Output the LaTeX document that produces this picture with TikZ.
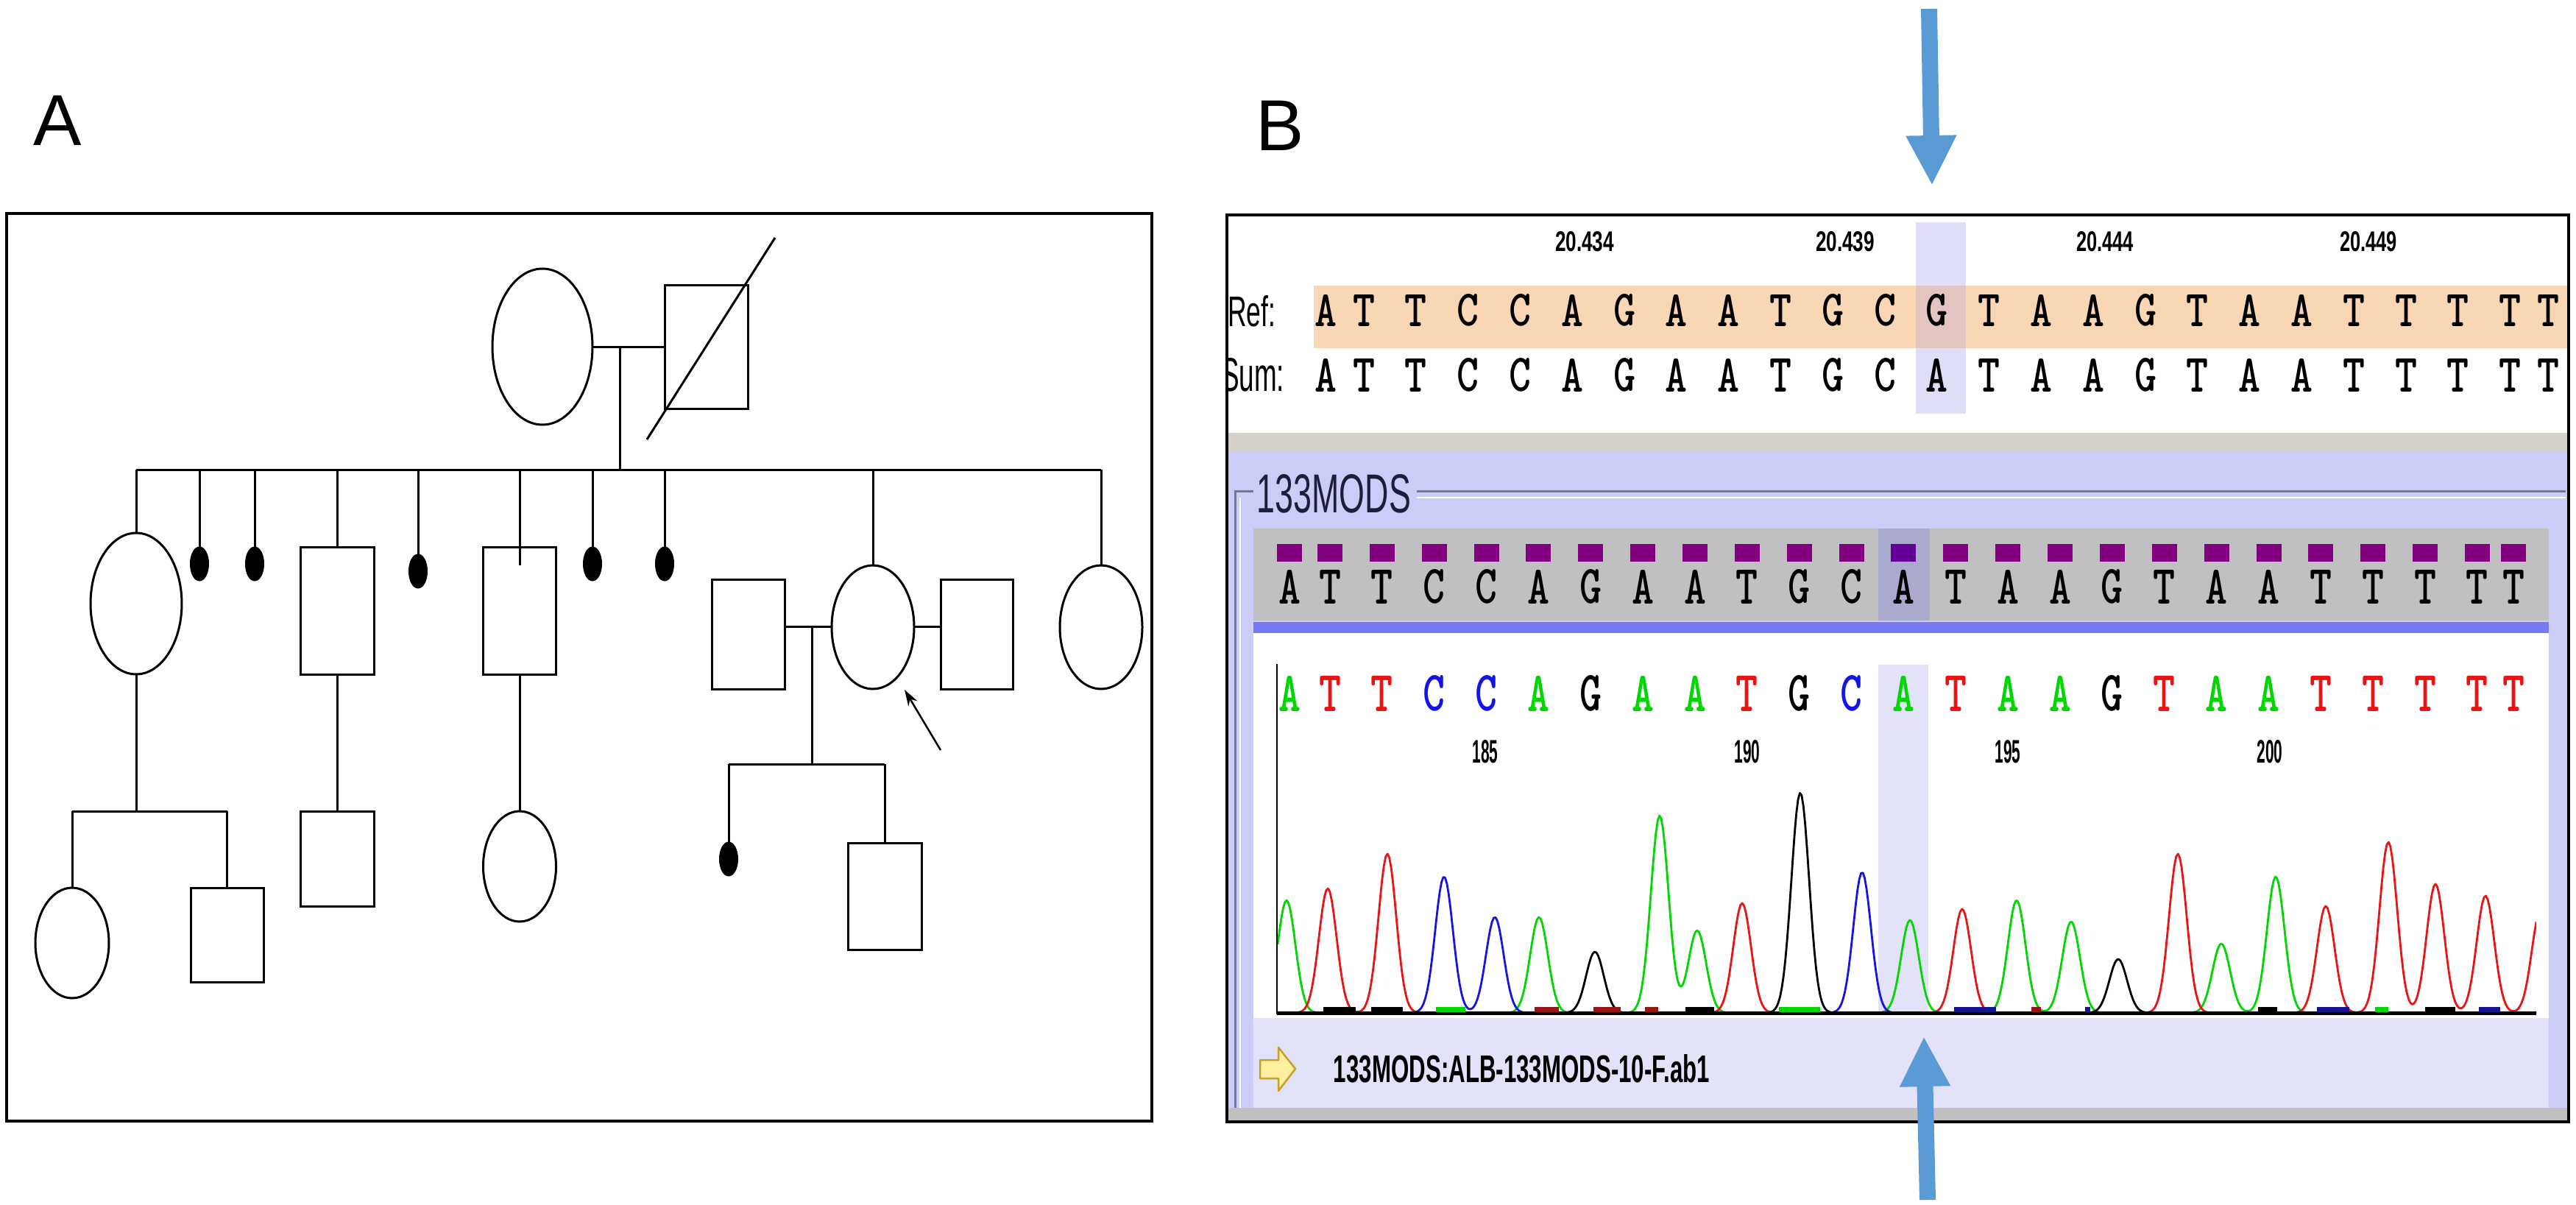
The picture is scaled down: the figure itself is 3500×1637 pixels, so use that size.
\documentclass[tikz,border=0pt]{standalone}
\usepackage{graphicx}
\usepackage{fontspec}
\setmainfont{Liberation Sans}
\usetikzlibrary{shapes.geometric,arrows.meta}
\definecolor{peach}{RGB}{249,214,180}
\definecolor{hilite}{RGB}{222,222,246}
\definecolor{hilpeach}{RGB}{226,196,192}
\definecolor{gband}{RGB}{212,208,200}
\definecolor{lav}{RGB}{204,204,248}
\definecolor{lavlight}{RGB}{226,226,248}
\definecolor{framegray}{RGB}{120,120,150}
\definecolor{barg}{RGB}{192,192,192}
\definecolor{barhil}{RGB}{170,170,206}
\definecolor{purp}{RGB}{128,0,128}
\definecolor{purphil}{RGB}{100,0,150}
\definecolor{blueline}{RGB}{120,120,240}
\definecolor{tg}{RGB}{0,215,0}
\definecolor{tr}{RGB}{235,20,20}
\definecolor{tb}{RGB}{20,20,230}
\definecolor{tk}{RGB}{0,0,0}
\definecolor{dred}{RGB}{150,20,20}
\definecolor{dblue}{RGB}{20,20,140}
\definecolor{arrblue}{RGB}{91,155,213}
\definecolor{iconfill}{RGB}{255,240,160}
\definecolor{icondraw}{RGB}{200,160,40}
\definecolor{grptext}{RGB}{30,30,60}
\newcommand{\fitto}[3]{\resizebox{#1pt}{#2pt}{#3}}
\newcommand{\seqlt}[1]{\ttfamily\bfseries #1}
\begin{document}
\begin{tikzpicture}[x=1pt,y=-1pt,
  pline/.style={line width=3pt,black},
  fem/.style={ellipse,draw,line width=3pt,inner sep=0pt,outer sep=0pt},
  mal/.style={rectangle,draw,line width=3pt,inner sep=0pt,outer sep=0pt},
  lost/.style={ellipse,fill=black,draw=black,line width=1pt,inner sep=0pt,outer sep=0pt,minimum width=25pt,minimum height=46pt},
  txt/.style={inner sep=0pt,outer sep=0pt,anchor=center},
  sqp/.style={rectangle,fill=purp,inner sep=0pt,outer sep=0pt,minimum width=34pt,minimum height=24pt},
  tracepen/.style={line width=2.8pt,line join=round},
  bluearrow/.style={arrblue,line width=22pt,-{Triangle[length=68pt,width=64pt]}},
  declare function={pk(\pkx,\pkc,\pkh)=\pkh*exp(-min(abs(\pkx-\pkc)/17,8)*min(abs(\pkx-\pkc)/17,8));}
]
\useasboundingbox (0,0) rectangle (3500,1637);
\fill[white] (0,0) rectangle (3500,1637);

% ---------------- labels
\node[txt,anchor=base west] (labA) at (45,198) {\fontsize{98}{98}\selectfont A};
\node[txt,anchor=base west] (labB) at (1706,205) {\fontsize{98}{98}\selectfont B};

% ---------------- Panel A : pedigree
\draw[line width=4pt] (8.5,290) rectangle (1565,1523);

\node[fem,minimum width=136pt,minimum height=212pt] (f1) at (737,471) {};
\node[mal,minimum width=113pt,minimum height=168pt] (m1) at (959.5,471) {};
\draw[pline] (f1.east) -- (m1.west);
\coordinate (dd1) at (879,597);
\coordinate (dd2) at (1053,323);
\draw[pline] (dd1) -- (dd2);
\coordinate (fm) at (842,471);
\coordinate (sibA) at (842,638);
\draw[pline] (fm) -- (sibA);
\coordinate (sA1) at (185,638);
\coordinate (sA2) at (1496,638);
\draw[pline] (sA1) -- (sA2);

\node[fem,minimum width=124pt,minimum height=192pt] (c1) at (185,820) {};
\node[lost] (c2) at (271,766) {};
\node[lost] (c3) at (346,766) {};
\node[mal,minimum width=100pt,minimum height=173pt] (c4) at (458,829.5) {};
\node[lost] (c5) at (568,776) {};
\node[mal,minimum width=99pt,minimum height=173pt] (c6) at (706,829.5) {};
\node[lost] (c7) at (805,766) {};
\node[lost] (c8) at (903,766) {};
\node[fem,minimum width=112pt,minimum height=168pt] (c9) at (1186,852) {};
\node[fem,minimum width=112pt,minimum height=168pt] (c10) at (1496,852) {};
\foreach \n in {c1,c2,c3,c4,c5,c7,c8,c9,c10}{
  \draw[pline] (\n.north |- sA1) -- (\n.north);
}
\draw[pline] (c6.north |- sA1) -- ([yshift=-25pt]c6.north);

\node[mal,minimum width=99pt,minimum height=149pt] (sp1) at (1016.5,861.5) {};
\node[mal,minimum width=98pt,minimum height=149pt] (sp2) at (1327,861.5) {};
\coordinate (mar2) at (1103,851);
\draw[pline] (sp1.east |- mar2) -- (c9.west |- mar2);
\draw[pline] (c9.east |- mar2) -- (sp2.west |- mar2);
\coordinate (sib2) at (1103,1038);
\draw[pline] (mar2) -- (sib2);
\node[lost] (g1) at (990,1167) {};
\node[mal,minimum width=100pt,minimum height=145pt] (g2) at (1202,1217.5) {};
\draw[pline] (g1.north |- sib2) -- (g2.north |- sib2);
\draw[pline] (g1.north |- sib2) -- (g1.north);
\draw[pline] (g2.north |- sib2) -- (g2.north);
\coordinate (pa1) at (1278,1019);
\coordinate (pa2) at (1229,937);
\draw[pline,line width=2.5pt,-{Stealth[length=22pt,width=14pt]}] (pa1) -- (pa2);

\coordinate (sib1) at (185,1102);
\node[fem,minimum width=100pt,minimum height=150pt] (h1) at (98,1281) {};
\node[mal,minimum width=99pt,minimum height=128pt] (h2) at (308.5,1270) {};
\draw[pline] (c1.south) -- (c1.south |- sib1);
\draw[pline] (h1.north |- sib1) -- (h2.north |- sib1);
\draw[pline] (h1.north |- sib1) -- (h1.north);
\draw[pline] (h2.north |- sib1) -- (h2.north);
\node[mal,minimum width=100pt,minimum height=129pt] (h3) at (458,1166.5) {};
\draw[pline] (c4.south) -- (h3.north);
\node[fem,minimum width=99pt,minimum height=150pt] (h4) at (706,1177) {};
\draw[pline] (c6.south) -- (h4.north);

% ---------------- Panel B : sequence viewer
\begin{scope}
\clip (1667,292) rectangle (3490,1524);
\fill[peach] (1785,388) rectangle (3490,473);
\fill[hilite] (2603,302) rectangle (2671,562);
\fill[hilpeach] (2603,388) rectangle (2671,473);
\fill[gband] (1667,588) rectangle (3490,613);
\fill[lav] (1667,613) rectangle (3490,1507);
\fill[barg] (1667,1505) rectangle (3490,1524);
\draw[framegray,line width=3pt] (1703,667) -- (1678,667) -- (1678,1505);
\draw[framegray,line width=3pt] (1925,667) -- (3486,667);
\draw[white,line width=2pt] (1925,676) -- (3486,676);
\draw[white,line width=2pt] (1685,676) -- (1685,1505);
\fill[barg] (1703,718) rectangle (3463,843);
\fill[barhil] (2552,718) rectangle (2622,843);
\fill[blueline] (1703,845) rectangle (3463,860);
\fill[white] (1703,860) rectangle (3463,1383);
\fill[lavlight] (1703,1383) rectangle (3463,1505);
\fill[lavlight] (2552,903) rectangle (2620,1376);

\node[txt] (p1) at (2153,328) {\fitto{80}{27}{\bfseries 20.434}};
\node[txt] (p2) at (2507,328) {\fitto{80}{27}{\bfseries 20.439}};
\node[txt] (p3) at (2860,328) {\fitto{78}{27}{\bfseries 20.444}};
\node[txt] (p4) at (3218,328) {\fitto{78}{27}{\bfseries 20.449}};

\node[txt] (refl) at (1700.5,423) {\fitto{65}{42}{Ref:}};
\node[txt] (suml) at (1702,509.5) {\fitto{86}{45}{Sum:}};

\foreach \l [count=\i from 0] in {A,T,T,C,C,A,G,A,A,T,G,C,G,T,A,A,G,T,A,A,T,T,T,T,T}{
  \pgfmathsetmacro\xx{\i==0 ? 1801 : (\i==24 ? 3462 : 1853+(\i-1)*70.8)}
  \node[txt] (ref\i) at (\xx,421.5) {\fitto{30}{43}{\seqlt{\l}}};
}
\foreach \l [count=\i from 0] in {A,T,T,C,C,A,G,A,A,T,G,C,A,T,A,A,G,T,A,A,T,T,T,T,T}{
  \pgfmathsetmacro\xx{\i==0 ? 1801 : (\i==24 ? 3462 : 1853+(\i-1)*70.8)}
  \node[txt] (sum\i) at (\xx,509.5) {\fitto{30}{45}{\seqlt{\l}}};
}

\node[txt,text=grptext] (grp) at (1812.5,671) {\fitto{209}{52}{133MODS}};

\foreach \l [count=\i from 0] in {A,T,T,C,C,A,G,A,A,T,G,C,A,T,A,A,G,T,A,A,T,T,T,T,T}{
  \pgfmathsetmacro\xx{\i==0 ? 1752 : (\i==24 ? 3415 : 1807+(\i-1)*70.86)}
  \node[sqp] (sq\i) at (\xx,751) {};
  \node[txt] (bar\i) at (\xx,797) {\fitto{30}{46}{\seqlt{\l}}};
}
\node[sqp,fill=purphil] (sqh) at (sq12) {};

\foreach \l/\cl [count=\i from 0] in {A/tg,T/tr,T/tr,C/tb,C/tb,A/tg,G/tk,A/tg,A/tg,T/tr,G/tk,C/tb,A/tg,T/tr,A/tg,A/tg,G/tk,T/tr,A/tg,A/tg,T/tr,T/tr,T/tr,T/tr,T/tr}{
  \pgfmathsetmacro\xx{\i==0 ? 1752 : (\i==24 ? 3415 : 1807+(\i-1)*70.86)}
  \node[txt,text=\cl] (tr\i) at (\xx,942) {\fitto{30}{48}{\seqlt{\l}}};
}

\node[txt] (q1) at (2018,1021) {\fitto{35}{31}{\bfseries 185}};
\node[txt] (q2) at (2374,1021) {\fitto{35}{31}{\bfseries 190}};
\node[txt] (q3) at (2728,1021) {\fitto{35}{31}{\bfseries 195}};
\node[txt] (q4) at (3084,1021) {\fitto{35}{31}{\bfseries 200}};

\begin{scope}
\clip (1736,880) rectangle (3446,1380);
\draw[tg,tracepen] plot[domain=1736:3446,samples=700] (\x,{1376-pk(\x,1748,153)-pk(\x,2091,130)-pk(\x,2255,268)-pk(\x,2306,112)-pk(\x,2595,126)-pk(\x,2740,153)-pk(\x,2814,124)-pk(\x,3018,94)-pk(\x,3092,185)});
\draw[tr,tracepen] plot[domain=1736:3446,samples=700] (\x,{1376-pk(\x,1804,169)-pk(\x,1885,216)-pk(\x,2367,149)-pk(\x,2666,141)-pk(\x,2959,216)-pk(\x,3160,145)-pk(\x,3245,232)-pk(\x,3309,175)-pk(\x,3377,159)-pk(\x,3452,140)});
\draw[tb,tracepen] plot[domain=1736:3446,samples=700] (\x,{1376-pk(\x,1962,185)-pk(\x,2031,130)-pk(\x,2530,191)});
\draw[tk,tracepen] plot[domain=1736:3446,samples=700] (\x,{1376-pk(\x,2167,83)-pk(\x,2446,299)-pk(\x,2878,73)});
\end{scope}
\coordinate (ax1) at (1735,902);
\coordinate (ax2) at (1735,1378);
\coordinate (bl2) at (3446,1376);
\draw[black,line width=2.5pt] (ax1) -- (ax2);
\draw[black,line width=5pt] (ax2 |- bl2) -- (bl2);
\foreach \a/\b/\c in {1798/1842/black,1863/1906/black,2290/2329/black,3068/3094/black,3295/3336/black,
  1951/1991/tg,2417/2473/tg,3227/3245/tg,
  2085/2118/dred,2165/2202/dred,2235/2253/dred,2760/2773/dred,
  2655/2712/dblue,3148/3192/dblue,3368/3397/dblue,2833/2840/dblue}{
  \draw[\c,line width=7pt] (\a,1371) -- (\b,1371);
}

\draw[icondraw,fill=iconfill,line width=2.5pt,line join=round]
  (1712,1440) -- (1737,1440) -- (1737,1423) -- (1760,1452) -- (1737,1482) -- (1737,1465) -- (1712,1465) -- cycle;
\node[txt] (file) at (2067.5,1451.5) {\fitto{511}{38}{\bfseries 133MODS:ALB-133MODS-10-F.ab1}};
\end{scope}
\draw[line width=4pt] (1667,292) rectangle (3490,1524);

\coordinate (ta1) at (2621,12);
\coordinate (ta2) at (2625,252);
\draw[bluearrow] (ta1) -- (ta2);
\coordinate (ba1) at (2619,1630);
\coordinate (ba2) at (2614,1408);
\draw[bluearrow] (ba1) -- (ba2);
\end{tikzpicture}
\end{document}
